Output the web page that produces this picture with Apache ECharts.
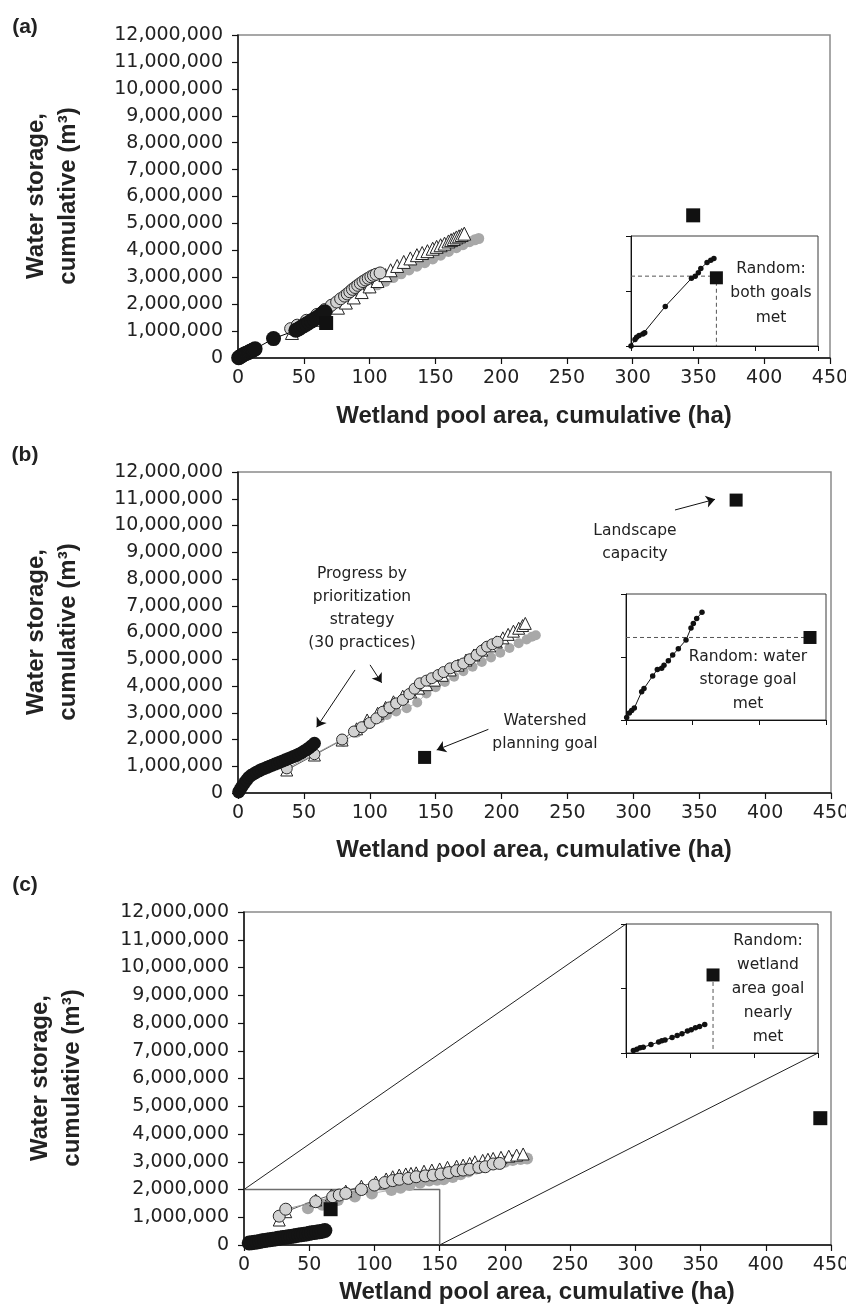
<!DOCTYPE html>
<html><head><meta charset="utf-8">
<script src="https://cdn.jsdelivr.net/npm/echarts@6/dist/echarts.min.js"></script>
<style>html,body{margin:0;padding:0;background:#fff}#c{width:846px;height:1314px}</style>
</head><body><div id="c"></div>
<script>
// ---------- DATA (x: wetland pool area, ha; y: water storage, million m3) ----------
const X_TICKS = [0,50,100,150,200,250,300,350,400,450];
const Y_TICKS_M = [0,1,2,3,4,5,6,7,8,9,10,11,12];

// Panel (a)
const A_black_x = [0.5,1,2,3,4,5,6,7,8,9,10,11,12,13,27,44,46,48,50,52,54,56,58,60,62,63,64,65,66];
const A_black_y = [0.01,0.03,0.06,0.09,0.12,0.15,0.17,0.19,0.21,0.24,0.26,0.29,0.31,0.34,0.72,1.03,1.08,1.14,1.2,1.26,1.32,1.38,1.44,1.5,1.56,1.6,1.64,1.68,1.72];
const A_tri_x = [41,58,76,82,88,94,100,106,112,116,121,126,131,136,140,144,148,151,154,157,160,162,164,166,168,170,172];
const A_tri_y = [0.93,1.42,1.87,2.06,2.25,2.45,2.66,2.86,3.08,3.26,3.42,3.57,3.7,3.82,3.9,3.97,4.06,4.13,4.19,4.25,4.33,4.38,4.42,4.48,4.52,4.57,4.62];
const A_circ_x = [40,45,52,60,66,71,75,78,81,83,85,87,89,91,93,95,97,99,101,103,105,108];
const A_circ_y = [1.09,1.22,1.4,1.62,1.8,1.96,2.08,2.2,2.3,2.38,2.46,2.55,2.62,2.7,2.77,2.84,2.9,2.96,3.02,3.07,3.11,3.16];
const A_gray_x = [70,76,82,88,94,100,106,112,118,124,130,136,142,148,154,160,166,171,176,180,183];
const A_gray_y = [1.92,2.06,2.2,2.34,2.47,2.6,2.72,2.85,2.99,3.13,3.27,3.41,3.54,3.68,3.82,3.96,4.1,4.21,4.32,4.39,4.44];
const A_goal_x = [67, 346];
const A_goal_y = [1.3, 5.3];

// Panel (b)
const B_black_x = [0.5,1.5,2.5,3.5,5,6.5,8,10,12,14,16,18,20,22,24,26,28,30,32,34,36,38,40,42,44,46,48,50,52,54,56,58];
const B_black_y = [0.04,0.12,0.2,0.28,0.38,0.48,0.58,0.66,0.72,0.78,0.83,0.88,0.92,0.96,1.0,1.04,1.08,1.12,1.16,1.2,1.24,1.28,1.32,1.36,1.4,1.45,1.5,1.56,1.62,1.69,1.77,1.86];
const B_tri_x = [37,58,79,90,98,106,112,118,125,131,137,143,149,155,161,167,173,179,185,191,196,201,205,209,213,216,218];
const B_tri_y = [0.86,1.42,1.98,2.4,2.73,2.98,3.2,3.41,3.62,3.78,3.92,4.05,4.22,4.4,4.6,4.78,4.97,5.16,5.34,5.5,5.65,5.8,5.93,6.05,6.16,6.26,6.34];
const B_circ_x = [37,58,79,88,94,100,105,110,115,120,125,130,134,138,143,147,152,156,161,166,171,176,181,185,189,193,197];
const B_circ_y = [0.92,1.45,2.0,2.3,2.46,2.62,2.79,3.04,3.2,3.35,3.48,3.7,3.9,4.1,4.2,4.29,4.41,4.52,4.66,4.75,4.84,5.0,5.16,5.32,5.47,5.56,5.65];
const B_gray_x = [80,90,100,108,113,120,128,136,143,150,157,164,171,178,185,192,199,206,213,219,223,226];
const B_gray_y = [1.92,2.25,2.58,2.8,2.92,3.05,3.17,3.38,3.72,3.95,4.15,4.35,4.55,4.72,4.9,5.07,5.24,5.42,5.6,5.74,5.84,5.9];
const B_goal_x = [141.6, 378];
const B_goal_y = [1.33, 10.95];

// Panel (c)
const C_black_x = [4,6,8,10,12,14,16,18,20,22,24,26,28,30,32,34,36,38,40,42,44,46,48,50,52,54,56,58,60,62];
const C_black_y = [0.07,0.08,0.1,0.11,0.13,0.15,0.16,0.18,0.19,0.21,0.22,0.24,0.25,0.27,0.28,0.3,0.31,0.32,0.34,0.36,0.37,0.39,0.4,0.42,0.44,0.45,0.47,0.48,0.5,0.52];
const C_tri_x = [27,32,55,67,78,90,101,109,114,119,124,128,132,138,144,150,156,163,168,173,177,183,187,191,197,203,209,214];
const C_tri_y = [0.9,1.2,1.62,1.8,1.94,2.12,2.27,2.38,2.46,2.52,2.56,2.58,2.6,2.66,2.7,2.74,2.8,2.84,2.88,2.94,3.0,3.05,3.09,3.12,3.16,3.2,3.24,3.28];
const C_circ_x = [27,32,55,68,73,78,90,100,108,114,119,126,132,139,145,151,157,163,168,173,180,185,191,196];
const C_circ_y = [1.04,1.29,1.56,1.74,1.8,1.86,2.0,2.16,2.25,2.32,2.37,2.4,2.46,2.49,2.52,2.56,2.61,2.68,2.7,2.73,2.8,2.82,2.92,2.94];
const C_gray_x = [49,60,72,85,98,113,120,127,135,142,148,153,160,166,172,178,185,193,200,206,212,217];
const C_gray_y = [1.32,1.45,1.62,1.75,1.86,1.98,2.06,2.16,2.24,2.32,2.35,2.37,2.45,2.55,2.65,2.76,2.85,2.94,3.0,3.06,3.1,3.12];
const C_goal_x = [66.4, 441.8];
const C_goal_y = [1.29, 4.57];
const C_zoom_box_x = [0,150,150];
const C_zoom_box_y = [2,2,0];

// Insets (relative, unlabeled units: x 0-3, y 0-2)
const IA_x = [0,0.064,0.09,0.13,0.19,0.22,0.55,0.97,1.03,1.08,1.12,1.22,1.28,1.33];
const IA_y = [0,0.12,0.16,0.19,0.22,0.24,0.72,1.23,1.27,1.33,1.41,1.52,1.56,1.59];
const IA_goal_x = [1.37]; const IA_goal_y = [1.24];
const IA_guide_x = [0,1.37,1.37]; const IA_guide_y = [1.27,1.27,0];

const IB_x = [0.01,0.05,0.085,0.125,0.235,0.27,0.40,0.47,0.535,0.57,0.635,0.70,0.785,0.90,0.975,1.01,1.06,1.14];
const IB_y = [0.04,0.11,0.15,0.19,0.45,0.50,0.70,0.80,0.82,0.87,0.94,1.03,1.13,1.27,1.46,1.53,1.61,1.71];
const IB_goal_x = [2.76]; const IB_goal_y = [1.31];
const IB_guide_x = [0,2.76]; const IB_guide_y = [1.31,1.31];

const IC_x = [0.115,0.17,0.22,0.27,0.39,0.51,0.56,0.61,0.72,0.80,0.875,0.96,1.02,1.085,1.15,1.23];
const IC_y = [0.04,0.06,0.08,0.09,0.13,0.17,0.19,0.20,0.24,0.27,0.30,0.34,0.36,0.39,0.41,0.44];
const IC_goal_x = [1.36]; const IC_goal_y = [1.21];
const IC_guide_x = [1.36,1.36]; const IC_guide_y = [1.21,0.03];

// Annotation arrows in panel (b): [x1,y1,x2(tip),y2(tip)]
const B_arrows = [[88.8,4.6,59.7,2.46],[100.2,4.79,109,4.12],[190,2.38,150.8,1.61],[331.6,10.58,362,10.98]];

// ---------- CHART ----------
const pairs = (xs, ys) => xs.map((x, i) => [x, ys[i]]);
const fmt = v => String(Math.round(v * 1000000)).replace(/\B(?=(\d{3})+(?!\d))/g, ',');
const TICK_FONT = 'DejaVu Sans';
const chart = echarts.init(document.getElementById('c'), null, {renderer: 'canvas'});

const grids = [
  {left: 238, top: 35, width: 592, height: 323},
  {left: 238, top: 472, width: 593, height: 321},
  {left: 244, top: 912, width: 587, height: 333},
  {left: 631, top: 236, width: 187, height: 110},
  {left: 626, top: 594, width: 200, height: 126},
  {left: 626, top: 924, width: 192, height: 129}
].map((g, i) => Object.assign(g, {
  show: true, outerBoundsMode: 'none', containLabel: false,
  borderColor: i < 3 ? '#8a8a8a' : '#3a3a3a', borderWidth: i < 3 ? 1.5 : 1,
  backgroundColor: i < 3 ? 'transparent' : '#fff', z: i < 3 ? 0 : 10
}));

const xAxes = [], yAxes = [];
for (let i = 0; i < 3; i++) {
  xAxes.push({type: 'value', gridIndex: i, min: X_TICKS[0], max: X_TICKS[X_TICKS.length - 1], interval: X_TICKS[1] - X_TICKS[0],
    axisLine: {show: true, onZero: false, lineStyle: {color: '#111', width: 1.5}},
    axisTick: {show: true, inside: false, length: 6, lineStyle: {color: '#111', width: 1.2}},
    axisLabel: {show: true, margin: 11, fontSize: 19, fontFamily: TICK_FONT, color: '#222'},
    splitLine: {show: false}});
  yAxes.push({type: 'value', gridIndex: i, min: Y_TICKS_M[0], max: Y_TICKS_M[Y_TICKS_M.length - 1], interval: 1,
    axisLine: {show: true, onZero: false, lineStyle: {color: '#111', width: 1.5}},
    axisTick: {show: true, inside: false, length: 6, lineStyle: {color: '#111', width: 1.2}},
    axisLabel: {show: true, margin: 15, fontSize: 19, fontFamily: TICK_FONT, color: '#222', formatter: fmt},
    splitLine: {show: false}});
}
for (let i = 3; i < 6; i++) {
  const z = 11;
  xAxes.push({type: 'value', gridIndex: i, min: 0, max: 3, interval: 1, z,
    axisLine: {show: true, onZero: false, lineStyle: {color: '#111', width: 1}},
    axisTick: {show: true, inside: false, length: 5, lineStyle: {color: '#111', width: 1}},
    axisLabel: {show: false}, splitLine: {show: false}});
  yAxes.push({type: 'value', gridIndex: i, min: 0, max: 2, interval: 1, z,
    axisLine: {show: true, onZero: false, lineStyle: {color: '#111', width: 1}},
    axisTick: {show: true, inside: false, length: 5, lineStyle: {color: '#111', width: 1}},
    axisLabel: {show: false}, splitLine: {show: false}});
}

function ser(gi, xs, ys, o) {
  return {type: 'line', xAxisIndex: gi, yAxisIndex: gi, data: pairs(xs, ys),
    symbol: o.symbol || 'none', symbolSize: o.size || 0, showSymbol: !!o.symbol, showAllSymbol: true,
    itemStyle: {color: o.fill || '#000', borderColor: o.stroke || o.fill || '#000', borderWidth: o.bw || 0, opacity: 1},
    lineStyle: {color: o.lc || '#000', width: o.lw === undefined ? 1 : o.lw, type: o.dash ? [4, 3] : 'solid', opacity: o.lw === 0 ? 0 : 1},
    z: o.z || 2, silent: true, animation: false, clip: false, emphasis: {disabled: true}};
}

const sizes = [
  {black: 15, circ: 12, tri: 13, gray: 11, sq: 14},
  {black: 13, circ: 11, tri: 12, gray: 10, sq: 13},
  {black: 15, circ: 12, tri: 12, gray: 12, sq: 14}
];
const panels = [
  {gray: [A_gray_x, A_gray_y], tri: [A_tri_x, A_tri_y], circ: [A_circ_x, A_circ_y], black: [A_black_x, A_black_y], goal: [A_goal_x, A_goal_y]},
  {gray: [B_gray_x, B_gray_y], tri: [B_tri_x, B_tri_y], circ: [B_circ_x, B_circ_y], black: [B_black_x, B_black_y], goal: [B_goal_x, B_goal_y]},
  {gray: [C_gray_x, C_gray_y], tri: [C_tri_x, C_tri_y], circ: [C_circ_x, C_circ_y], black: [C_black_x, C_black_y], goal: [C_goal_x, C_goal_y]}
];
const series = [];
panels.forEach((p, gi) => {
  const s = sizes[gi];
  series.push(ser(gi, p.gray[0], p.gray[1], {symbol: 'circle', size: s.gray, fill: '#a8a8a8', lc: '#b5b5b5', lw: 1, z: 2}));
  series.push(ser(gi, p.tri[0], p.tri[1], {symbol: 'triangle', size: s.tri, fill: '#ffffff', stroke: '#222', bw: 1, lc: '#333', lw: 0.8, z: 3}));
  series.push(ser(gi, p.circ[0], p.circ[1], {symbol: 'circle', size: s.circ, fill: '#d2d2d2', stroke: '#2a2a2a', bw: 1, lc: '#9a9a9a', lw: 1, z: 4}));
  series.push(ser(gi, p.black[0], p.black[1], {symbol: 'circle', size: s.black, fill: '#141414', lc: '#000', lw: 1, z: 5}));
  const goal = {type: 'scatter', xAxisIndex: gi, yAxisIndex: gi, data: pairs(p.goal[0], p.goal[1]), symbol: 'rect', symbolSize: s.sq,
    itemStyle: {color: '#111', opacity: 1}, z: 6, silent: true, animation: false, clip: false, emphasis: {disabled: true}};
  if (gi === 1) {
    goal.markLine = {silent: true, animation: false, symbol: ['none', 'arrow'], symbolSize: 9,
      lineStyle: {color: '#111', width: 1, type: 'solid', opacity: 1}, label: {show: false}, emphasis: {disabled: true},
      data: B_arrows.map(a => [{coord: [a[0], a[1]]}, {coord: [a[2], a[3]]}])};
  }
  series.push(goal);
});
// zoom rectangle in (c)
series.push(ser(2, C_zoom_box_x, C_zoom_box_y, {lc: '#6e6e6e', lw: 1.5, z: 1}));

// insets
const insets = [
  {gi: 3, x: IA_x, y: IA_y, gx: IA_goal_x, gy: IA_goal_y, lx: IA_guide_x, ly: IA_guide_y},
  {gi: 4, x: IB_x, y: IB_y, gx: IB_goal_x, gy: IB_goal_y, lx: IB_guide_x, ly: IB_guide_y},
  {gi: 5, x: IC_x, y: IC_y, gx: IC_goal_x, gy: IC_goal_y, lx: IC_guide_x, ly: IC_guide_y}
];
insets.forEach(t => {
  series.push(ser(t.gi, t.lx, t.ly, {lc: '#555', lw: 1, dash: true, z: 12}));
  series.push(ser(t.gi, t.x, t.y, {symbol: 'circle', size: 5.5, fill: '#111', lc: '#111', lw: 1, z: 13}));
  series.push({type: 'scatter', xAxisIndex: t.gi, yAxisIndex: t.gi, data: pairs(t.gx, t.gy), symbol: 'rect', symbolSize: 13,
    itemStyle: {color: '#111', opacity: 1}, z: 14, silent: true, animation: false, clip: false, emphasis: {disabled: true}});
});

const ANN = '15.5px "DejaVu Sans"';
const TITLE = 'bold 24px "Liberation Sans"';
function txt(x, y, text, font, lh, rot) {
  return {type: 'text', x, y, rotation: rot || 0, z: 50, silent: true,
    style: {text, font, fill: '#222', align: 'center', verticalAlign: 'middle', textAlign: 'center', textVerticalAlign: 'middle', lineHeight: lh}};
}
const graphics = [
  txt(25, 27, '(a)', 'bold 21px "Liberation Sans"', 24),
  txt(25, 455, '(b)', 'bold 21px "Liberation Sans"', 24),
  txt(25, 885, '(c)', 'bold 21px "Liberation Sans"', 24),
  txt(52, 196, 'Water storage,\ncumulative (m³)', TITLE, 32, Math.PI / 2),
  txt(52, 632, 'Water storage,\ncumulative (m³)', TITLE, 32, Math.PI / 2),
  txt(56, 1078, 'Water storage,\ncumulative (m³)', TITLE, 32, Math.PI / 2),
  txt(534, 416, 'Wetland pool area, cumulative (ha)', TITLE, 28),
  txt(534, 850, 'Wetland pool area, cumulative (ha)', TITLE, 28),
  txt(537, 1292, 'Wetland pool area, cumulative (ha)', TITLE, 28),
  txt(771, 293, 'Random:\nboth goals\nmet', ANN, 24.5),
  txt(362, 608, 'Progress by\nprioritization\nstrategy\n(30 practices)', ANN, 23),
  txt(635, 542, 'Landscape\ncapacity', ANN, 23),
  txt(545, 732, 'Watershed\nplanning goal', ANN, 23),
  txt(748, 680, 'Random: water\nstorage goal\nmet', ANN, 23.5),
  txt(768, 989, 'Random:\nwetland\narea goal\nnearly\nmet', ANN, 24)
];

chart.setOption({animation: false, grid: grids, xAxis: xAxes, yAxis: yAxes, series, graphic: graphics});

// connector lines from the zoom box in (c) to its inset, via the library's scales
const p1 = chart.convertToPixel({gridIndex: 2}, [C_zoom_box_x[0], C_zoom_box_y[0]]);
const p2 = chart.convertToPixel({gridIndex: 5}, [0, 2]);
const p3 = chart.convertToPixel({gridIndex: 2}, [C_zoom_box_x[2], C_zoom_box_y[2]]);
const p4 = chart.convertToPixel({gridIndex: 5}, [3, 0]);
const conn = (a, b) => ({type: 'line', z: 5, silent: true, shape: {x1: a[0], y1: a[1], x2: b[0], y2: b[1]}, style: {stroke: '#222', lineWidth: 1}});
chart.setOption({graphic: graphics.concat([conn(p1, p2), conn(p3, p4)])});
</script>
</body></html>
